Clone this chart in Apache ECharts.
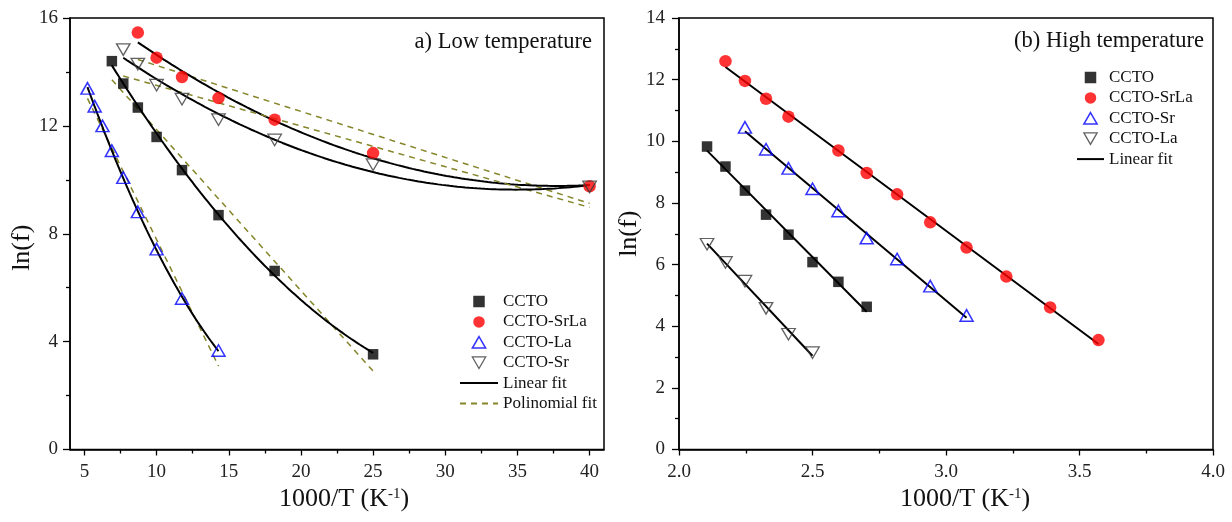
<!DOCTYPE html>
<html><head><meta charset="utf-8">
<script src="https://cdn.jsdelivr.net/npm/echarts@6/dist/echarts.min.js"></script>
<style>html,body{margin:0;padding:0;background:#fff}#c{width:1232px;height:522px}</style>
</head><body><div id="c"></div>
<script>
// ---------- (a) Low temperature ----------
const lowX_CCTO = [6.90, 7.69, 8.70, 10.0, 11.76, 14.29, 18.18, 25.0];
const lowY_CCTO = [14.40, 13.57, 12.68, 11.59, 10.36, 8.69, 6.62, 3.53];
const lowX_SrLa = [8.70, 10.0, 11.76, 14.29, 18.18, 25.0, 40.0];
const lowY_SrLa = [15.46, 14.53, 13.81, 13.03, 12.23, 10.99, 9.76];
const lowX_La = [5.21, 5.71, 6.25, 6.90, 7.69, 8.70, 10.0, 11.76, 14.29];
const lowY_La = [13.39, 12.73, 12.00, 11.08, 10.08, 8.81, 7.43, 5.60, 3.67];
const lowX_Sr = [7.69, 8.70, 10.0, 11.76, 14.29, 18.18, 25.0, 40.0];
const lowY_Sr = [14.83, 14.29, 13.51, 12.99, 12.23, 11.48, 10.56, 9.74];
const lowXLabels = [5, 10, 15, 20, 25, 30, 35, 40];
const lowXMinor = [7.5, 12.5, 17.5, 22.5, 27.5, 32.5, 37.5];

// ---------- (b) High temperature ----------
const highX_CCTO = [2.105, 2.174, 2.247, 2.326, 2.410, 2.500, 2.597, 2.703];
const highY_CCTO = [9.83, 9.18, 8.40, 7.62, 6.97, 6.08, 5.44, 4.63];
const highX_SrLa = [2.174, 2.247, 2.326, 2.410, 2.597, 2.703, 2.817, 2.941, 3.077, 3.226, 3.390, 3.571];
const highY_SrLa = [12.60, 11.96, 11.38, 10.80, 9.70, 8.97, 8.28, 7.37, 6.55, 5.61, 4.61, 3.55];
const highX_Sr = [2.247, 2.326, 2.410, 2.500, 2.597, 2.703, 2.817, 2.941, 3.077];
const highY_Sr = [10.45, 9.74, 9.12, 8.46, 7.74, 6.86, 6.18, 5.30, 4.35];
const highX_La = [2.105, 2.174, 2.247, 2.326, 2.410, 2.500];
const highY_La = [6.66, 6.07, 5.46, 4.58, 3.74, 3.14];

// ---------- least-squares fits of the data ----------
function linFit(xs, ys) {
  const n = xs.length; let sx = 0, sy = 0, sxx = 0, sxy = 0;
  for (let i = 0; i < n; i++) { sx += xs[i]; sy += ys[i]; sxx += xs[i] * xs[i]; sxy += xs[i] * ys[i]; }
  const b = (n * sxy - sx * sy) / (n * sxx - sx * sx), a = (sy - b * sx) / n;
  const x0 = Math.min(...xs), x1 = Math.max(...xs);
  return [[x0, a + b * x0], [x1, a + b * x1]];
}
function quadFit(xs, ys) {
  let s = [0, 0, 0, 0, 0], t = [0, 0, 0];
  for (let i = 0; i < xs.length; i++) {
    const x = xs[i], y = ys[i];
    for (let k = 0; k < 5; k++) s[k] += Math.pow(x, k);
    for (let k = 0; k < 3; k++) t[k] += Math.pow(x, k) * y;
  }
  const M = [[s[0], s[1], s[2], t[0]], [s[1], s[2], s[3], t[1]], [s[2], s[3], s[4], t[2]]];
  for (let c = 0; c < 3; c++) {
    for (let r = c + 1; r < 3; r++) { const f = M[r][c] / M[c][c]; for (let k = c; k < 4; k++) M[r][k] -= f * M[c][k]; }
  }
  const cf = [0, 0, 0];
  for (let r = 2; r >= 0; r--) { let v = M[r][3]; for (let k = r + 1; k < 3; k++) v -= M[r][k] * cf[k]; cf[r] = v / M[r][r]; }
  const x0 = Math.min(...xs), x1 = Math.max(...xs), out = [];
  for (let i = 0; i <= 120; i++) { const x = x0 + (x1 - x0) * i / 120; out.push([x, cf[0] + cf[1] * x + cf[2] * x * x]); }
  return out;
}
const zip = (xs, ys) => xs.map((x, i) => [x, ys[i]]);

const SQ = 'path://M0,0L10,0L10,10L0,10Z';
const TRI_UP = 'path://M5,0L10,8.66L0,8.66Z';
const TRI_DN = 'path://M0,0L10,0L5,8.66Z';
const FONT = 'Liberation Serif';
const OLIVE = '#85852a';

const stSq = { color: '#000' };
const stCi = { color: '#ff0000' };
const stBlue = { color: 'rgba(0,0,0,0)', borderColor: '#0000ff', borderWidth: 1.5 };
const stGray = { color: 'rgba(0,0,0,0)', borderColor: '#3a3a3a', borderWidth: 1.3 };
const noDot = { color: 'rgba(0,0,0,0)', borderWidth: 0, opacity: 0 };

function scatter(name, xs, ys, symbol, size, style, xi, yi) {
  return { type: 'scatter', name, data: zip(xs, ys), symbol, symbolSize: size, itemStyle: style,
    xAxisIndex: xi, yAxisIndex: yi, z: 5, silent: true };
}
function line(name, data, dashed, xi, yi) {
  return { type: 'line', name, data, showSymbol: false, symbol: 'none', xAxisIndex: xi, yAxisIndex: yi, silent: true, z: 3,
    lineStyle: dashed ? { color: OLIVE, width: 1.5, type: [6, 5] } : { color: '#000', width: 2 } };
}

const series = [];
[[lowX_CCTO, lowY_CCTO], [lowX_SrLa, lowY_SrLa], [lowX_La, lowY_La], [lowX_Sr, lowY_Sr]].forEach(([xs, ys]) => {
  series.push(line('Polinomial fit', linFit(xs, ys), true, 0, 0));
  series.push(line('Linear fit', quadFit(xs, ys), false, 0, 0));
});
series.push(scatter('CCTO', lowX_CCTO, lowY_CCTO, SQ, [10.5, 10.5], stSq, 0, 0));
series.push(scatter('CCTO-SrLa', lowX_SrLa, lowY_SrLa, 'circle', 12.5, stCi, 0, 0));
series.push(scatter('CCTO-La', lowX_La, lowY_La, TRI_UP, [13, 11.5], stBlue, 0, 0));
series.push(scatter('CCTO-Sr', lowX_Sr, lowY_Sr, TRI_DN, [13.5, 11.5], stGray, 0, 0));

[[highX_CCTO, highY_CCTO], [highX_SrLa, highY_SrLa], [highX_Sr, highY_Sr], [highX_La, highY_La]].forEach(([xs, ys]) => {
  series.push(line('Linear fit', linFit(xs, ys), false, 2, 1));
});
series.push(scatter('CCTO', highX_CCTO, highY_CCTO, SQ, [10.5, 10.5], stSq, 2, 1));
series.push(scatter('CCTO-SrLa', highX_SrLa, highY_SrLa, 'circle', 12.5, stCi, 2, 1));
series.push(scatter('CCTO-Sr', highX_Sr, highY_Sr, TRI_UP, [13, 11.5], stBlue, 2, 1));
series.push(scatter('CCTO-La', highX_La, highY_La, TRI_DN, [13.5, 11.5], stGray, 2, 1));

const axLine = { show: true, onZero: false, lineStyle: { color: '#000', width: 1.5 } };
const lblStyle = { fontFamily: FONT, fontSize: 19, color: '#222' };
const nameStyle = { fontFamily: FONT, fontSize: 26, color: '#111',
  rich: { sup: { fontFamily: FONT, fontSize: 15, verticalAlign: 'top', color: '#111' } } };
const minor = { show: true, splitNumber: 2, length: 4, lineStyle: { color: '#000', width: 1.3 } };
const tick = { show: true, inside: false, length: 7, lineStyle: { color: '#000', width: 1.3 } };

const legendText = { fontFamily: FONT, fontSize: 17, color: '#111', lineHeight: 14 };
const titleStyle = { fontFamily: FONT, fontSize: 22.5, fontWeight: 'normal', color: '#111' };

const option = {
  animation: false,
  backgroundColor: '#fff',
  title: [
    { text: 'a) Low temperature', right: 640, top: 31, padding: 0, textStyle: titleStyle },
    { text: '(b) High temperature', right: 28, top: 30, padding: 0, textStyle: titleStyle }
  ],
  grid: [
    { left: 70, right: 628, top: 18, bottom: 72.5, show: true, borderColor: '#000', borderWidth: 1.5, backgroundColor: 'transparent' },
    { left: 679, right: 19, top: 18, bottom: 72.5, show: true, borderColor: '#000', borderWidth: 1.5, backgroundColor: 'transparent' }
  ],
  xAxis: [
    { type: 'value', gridIndex: 0, min: 4, max: 41, position: 'bottom',
      axisLine: axLine, splitLine: { show: false },
      axisTick: Object.assign({}, tick, { length: 6, customValues: lowXLabels }),
      axisLabel: Object.assign({}, lblStyle, { margin: 13, customValues: lowXLabels }),
      name: '1000/T (K{sup|-1})', nameLocation: 'middle', nameGap: 35,
      nameTextStyle: Object.assign({}, nameStyle, { padding: [0, 0, 0, 14] }) },
    { type: 'value', gridIndex: 0, min: 4, max: 41, position: 'bottom', offset: 0,
      axisLine: { show: false }, splitLine: { show: false }, axisLabel: { show: false },
      axisTick: Object.assign({}, tick, { length: 4, customValues: lowXMinor }) },
    { type: 'value', gridIndex: 1, min: 2, max: 4, interval: 0.5, position: 'bottom',
      axisLine: axLine, splitLine: { show: false }, axisTick: Object.assign({}, tick, { length: 6 }), minorTick: minor,
      axisLabel: Object.assign({}, lblStyle, { margin: 13, formatter: v => v.toFixed(1) }),
      name: '1000/T (K{sup|-1})', nameLocation: 'middle', nameGap: 35,
      nameTextStyle: Object.assign({}, nameStyle, { padding: [0, 0, 0, 38] }) }
  ],
  yAxis: [
    { type: 'value', gridIndex: 0, min: 0, max: 16, interval: 4,
      axisLine: axLine, splitLine: { show: false }, axisTick: tick, minorTick: minor,
      axisLabel: Object.assign({}, lblStyle, { margin: 12 }),
      name: 'ln(f)', nameLocation: 'middle', nameGap: 31,
      nameTextStyle: Object.assign({}, nameStyle, { padding: [0, 28, 0, 0] }) },
    { type: 'value', gridIndex: 1, min: 0, max: 14, interval: 2,
      axisLine: axLine, splitLine: { show: false }, axisTick: tick, minorTick: minor,
      axisLabel: Object.assign({}, lblStyle, { margin: 14 }),
      name: 'ln(f)', nameLocation: 'middle', nameGap: 34, nameTextStyle: nameStyle }
  ],
  legend: [
    { orient: 'vertical', left: 459, top: 293, padding: 0, itemWidth: 38, itemHeight: 11.5, itemGap: 3.4,
      selectedMode: false, textStyle: legendText,
      data: [
        { name: 'CCTO', icon: SQ, itemStyle: stSq },
        { name: 'CCTO-SrLa', icon: 'circle', itemStyle: stCi },
        { name: 'CCTO-La', icon: TRI_UP, itemStyle: stBlue },
        { name: 'CCTO-Sr', icon: TRI_DN, itemStyle: stGray },
        { name: 'Linear fit', itemStyle: noDot },
        { name: 'Polinomial fit', itemStyle: noDot }
      ] },
    { orient: 'vertical', left: 1076, top: 69, padding: 0, itemWidth: 27, itemHeight: 11.5, itemGap: 3.4,
      selectedMode: false, textStyle: legendText,
      data: [
        { name: 'CCTO', icon: SQ, itemStyle: stSq },
        { name: 'CCTO-SrLa', icon: 'circle', itemStyle: stCi },
        { name: 'CCTO-Sr', icon: TRI_UP, itemStyle: stBlue },
        { name: 'CCTO-La', icon: TRI_DN, itemStyle: stGray },
        { name: 'Linear fit', itemStyle: noDot }
      ] }
  ],
  series
};
const chart = echarts.init(document.getElementById('c'), null, { renderer: 'canvas' });
chart.setOption(option);
</script></body></html>
